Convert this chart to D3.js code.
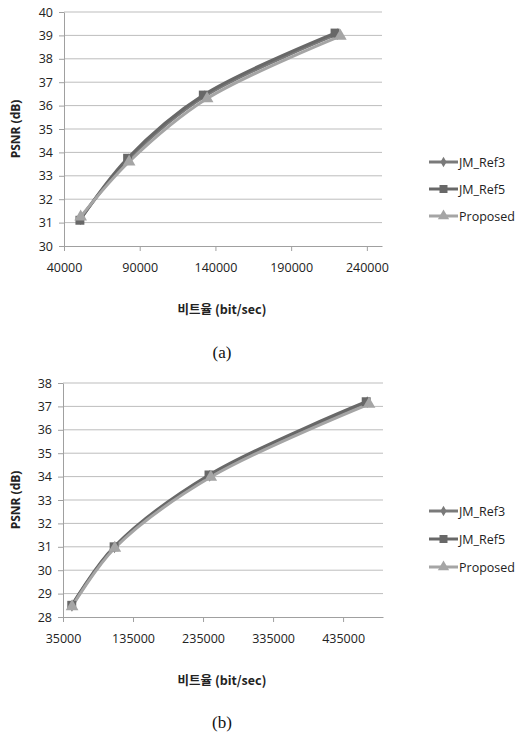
<!DOCTYPE html>
<html>
<head>
<meta charset="utf-8">
<script src="https://cdn.jsdelivr.net/npm/d3@7"></script>
<style>
  body { margin: 0; background: #fff; }
  svg { display: block; }
</style>
</head>
<body>
<div class="chart"></div>
<script>
// Series names and colours
const seriesNames = ["JM_Ref3", "JM_Ref5", "Proposed"];

// Chart (a): bit rate / PSNR per series
const rateA_ref3 = [50800, 82500, 133000, 220500];
const psnrA_ref3 = [31.15, 33.7, 36.4, 39.05];
const rateA_ref5 = [50500, 82000, 132000, 219000];
const psnrA_ref5 = [31.1, 33.75, 36.45, 39.1];
const rateA_prop = [51000, 83000, 134500, 222500];
const psnrA_prop = [31.25, 33.6, 36.3, 38.97];
const xTicksA = [40000, 90000, 140000, 190000, 240000];
const yTicksA = [30, 31, 32, 33, 34, 35, 36, 37, 38, 39, 40];

// Chart (b)
const rateB_ref3 = [47800, 108500, 244500, 469500];
const psnrB_ref3 = [28.48, 30.98, 34.03, 37.18];
const rateB_ref5 = [47500, 108000, 243500, 468000];
const psnrB_ref5 = [28.5, 31.0, 34.07, 37.2];
const rateB_prop = [48000, 109000, 246000, 472000];
const psnrB_prop = [28.45, 30.95, 33.98, 37.1];
const xTicksB = [35000, 135000, 235000, 335000, 435000];
const yTicksB = [28, 29, 30, 31, 32, 33, 34, 35, 36, 37, 38];

const zip = (xs, ys) => xs.map((x, i) => ({ x: x, y: ys[i] }));

const svg = d3.select(".chart")
    .append("svg")
    .attr("width", 520)
    .attr("height", 736);

const styles = {
    "JM_Ref3": { color: "#7a7a7a", marker: d3.symbolDiamond, size: 40, width: 3 },
    "JM_Ref5": { color: "#686868", marker: d3.symbolSquare, size: 80, width: 3 },
    "Proposed": { color: "#a5a5a5", marker: d3.symbolTriangle, size: 70, width: 3 }
};

function drawChart(opt) {
    const g = svg.append("g");

    const x = d3.scaleLinear().domain(opt.xDomain).range([opt.left, opt.right]);
    const y = d3.scaleLinear().domain(opt.yDomain).range([opt.bottom, opt.top]);

    // horizontal gridlines
    g.append("g")
        .selectAll("line")
        .data(opt.yTicks.slice(1))
        .enter()
        .append("line")
            .attr("x1", opt.left)
            .attr("x2", opt.right)
            .attr("y1", d => y(d))
            .attr("y2", d => y(d))
            .attr("stroke", "#bdbdbd")
            .attr("stroke-width", 1);

    // y axis
    const yAxis = d3.axisLeft(y).tickValues(opt.yTicks).tickSize(5).tickPadding(6).tickSizeOuter(0);
    g.append("g")
        .attr("transform", `translate(${opt.left},0)`)
        .call(yAxis)
        .call(s => s.select(".domain").attr("stroke", "#a0a0a0"))
        .call(s => s.selectAll(".tick line").attr("stroke", "#a0a0a0"))
        .call(s => s.selectAll(".tick text")
            .attr("font-family", "'Open Sans', sans-serif")
            .attr("font-size", 12.5)
            .attr("fill", "#222"));

    // x axis
    const xAxis = d3.axisBottom(x).tickValues(opt.xTicks).tickFormat(d3.format("d"))
        .tickSize(5).tickPadding(12).tickSizeOuter(0);
    g.append("g")
        .attr("transform", `translate(0,${opt.bottom})`)
        .call(xAxis)
        .call(s => s.select(".domain").attr("stroke", "#a0a0a0"))
        .call(s => s.selectAll(".tick line").attr("stroke", "#a0a0a0"))
        .call(s => s.selectAll(".tick text")
            .attr("font-family", "'Open Sans', sans-serif")
            .attr("font-size", 12.5)
            .attr("fill", "#222"));

    // series lines (smoothed like the spreadsheet chart)
    const line = d3.line().x(d => x(d.x)).y(d => y(d.y)).curve(d3.curveCatmullRom.alpha(0.5));
    opt.series.forEach(s => {
        const st = styles[s.name];
        g.append("path")
            .datum(s.data)
            .attr("d", line)
            .attr("fill", "none")
            .attr("stroke", st.color)
            .attr("stroke-width", st.width);
    });
    opt.series.forEach(s => {
        const st = styles[s.name];
        g.append("g")
            .selectAll("path")
            .data(s.data)
            .enter()
            .append("path")
                .attr("transform", d => `translate(${x(d.x)},${y(d.y)})`)
                .attr("d", d3.symbol().type(st.marker).size(st.size))
                .attr("fill", st.color);
    });

    // axis titles
    g.append("text")
        .attr("x", -((opt.top + opt.bottom) / 2))
        .attr("y", opt.yTitleX)
        .attr("transform", "rotate(-90)")
        .attr("text-anchor", "middle")
        .attr("font-family", "'Open Sans', 'Noto Sans CJK KR', sans-serif")
        .attr("font-weight", "bold")
        .attr("font-size", 12)
        .attr("fill", "#222")
        .text("PSNR (dB)");

    g.append("text")
        .attr("x", opt.xTitleX)
        .attr("y", opt.xTitleY)
        .attr("text-anchor", "middle")
        .attr("font-family", "'Noto Sans CJK KR', sans-serif")
        .attr("font-weight", "bold")
        .attr("font-size", 12.5)
        .attr("fill", "#222")
        .text("비트율 (bit/sec)");

    // legend
    opt.series.forEach((s, i) => {
        const st = styles[s.name];
        const ly = opt.legendY[i];
        g.append("line")
            .attr("x1", 429).attr("x2", 458)
            .attr("y1", ly).attr("y2", ly)
            .attr("stroke", st.color)
            .attr("stroke-width", st.width);
        g.append("path")
            .attr("transform", `translate(443.5,${ly})`)
            .attr("d", d3.symbol().type(st.marker).size(st.size * 0.8))
            .attr("fill", st.color);
        g.append("text")
            .attr("x", 459)
            .attr("y", ly + 4.5)
            .attr("font-family", "'Open Sans', sans-serif")
            .attr("font-size", 12.5)
            .attr("fill", "#222")
            .text(s.name);
    });

    // caption
    g.append("text")
        .attr("x", opt.xTitleX)
        .attr("y", opt.captionY)
        .attr("text-anchor", "middle")
        .attr("font-family", "'Liberation Serif', serif")
        .attr("font-size", 17)
        .attr("fill", "#111")
        .text(opt.caption);
}

drawChart({
    left: 64, right: 382, top: 12, bottom: 246,
    xDomain: [40000, 250000], yDomain: [30, 40],
    xTicks: xTicksA, yTicks: yTicksA,
    series: [
        { name: seriesNames[0], data: zip(rateA_ref3, psnrA_ref3) },
        { name: seriesNames[1], data: zip(rateA_ref5, psnrA_ref5) },
        { name: seriesNames[2], data: zip(rateA_prop, psnrA_prop) }
    ],
    yTitleX: 20, xTitleX: 222, xTitleY: 314,
    legendY: [162, 189, 216],
    caption: "(a)", captionY: 358
});

drawChart({
    left: 63, right: 383, top: 383, bottom: 617,
    xDomain: [35000, 492000], yDomain: [28, 38],
    xTicks: xTicksB, yTicks: yTicksB,
    series: [
        { name: seriesNames[0], data: zip(rateB_ref3, psnrB_ref3) },
        { name: seriesNames[1], data: zip(rateB_ref5, psnrB_ref5) },
        { name: seriesNames[2], data: zip(rateB_prop, psnrB_prop) }
    ],
    yTitleX: 20, xTitleX: 222, xTitleY: 685,
    legendY: [511, 539, 567],
    caption: "(b)", captionY: 728
});
</script>
</body>
</html>
